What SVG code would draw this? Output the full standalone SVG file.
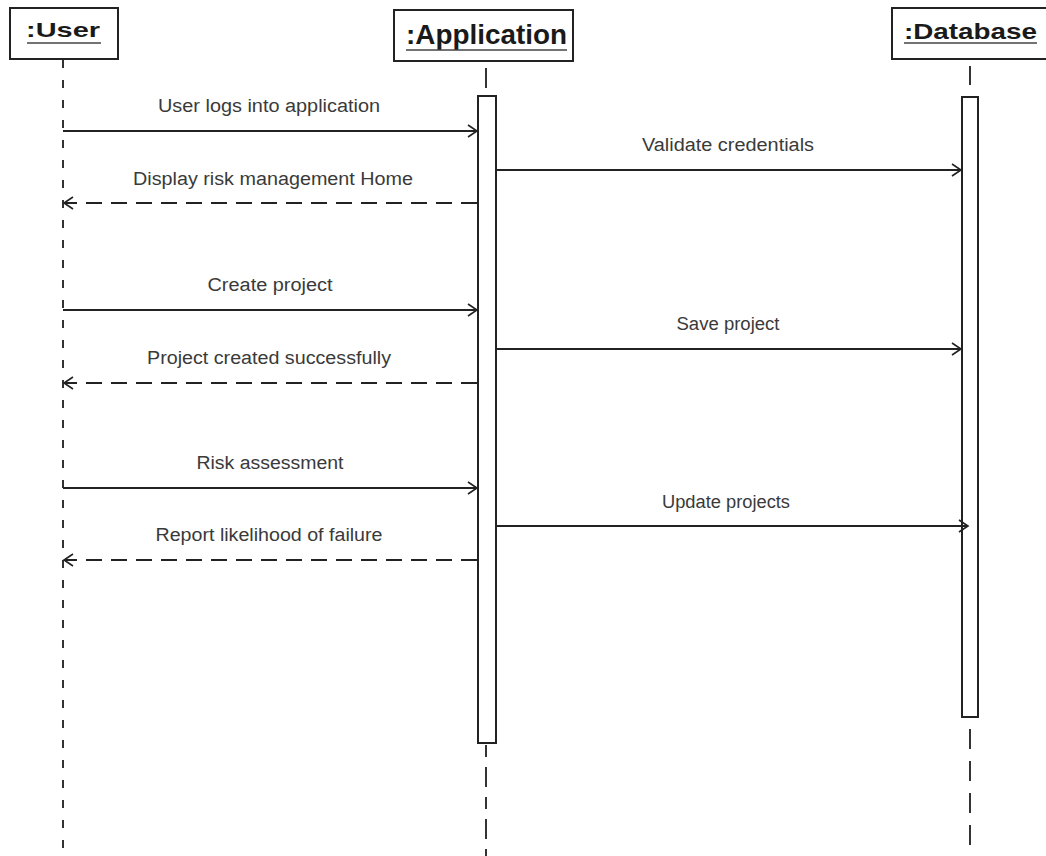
<svg xmlns="http://www.w3.org/2000/svg" width="1046" height="856" viewBox="0 0 1046 856">
<style>
.box{fill:#fff;stroke:#222;stroke-width:2}
.name{font-family:"Liberation Sans",Arial,sans-serif;fill:#1a1a1a}
.ul{stroke:#444;stroke-width:1.5}
.life{stroke:#333;stroke-width:2;fill:none}
.bar{fill:#fff;stroke:#222;stroke-width:2}
.lbl{font-family:"Liberation Sans",Arial,sans-serif;font-size:18px;fill:#3a3a3a;text-anchor:middle}
.msg{stroke:#222;stroke-width:1.8;fill:none}
.ret{stroke:#222;stroke-width:2;fill:none;stroke-dasharray:16 9}
</style>
<defs>
<marker id="open" markerWidth="12" markerHeight="14" refX="10" refY="7" orient="auto" markerUnits="userSpaceOnUse">
<path d="M1,1 L10,7 L1,13" fill="none" stroke="#222" stroke-width="1.6"/>
</marker>
</defs>
<rect width="1046" height="856" fill="#fff"/>
<g id="user">
<rect class="box" x="10" y="8" width="108" height="51"/>
<text class="name" x="26" y="37" font-size="21" font-weight="bold" textLength="74" lengthAdjust="spacingAndGlyphs">:User</text>
<line class="ul" x1="27" y1="43" x2="101" y2="43"/>
<line class="life" x1="63" y1="60" x2="63" y2="856" stroke="#555" stroke-dasharray="8 12"/>
</g>
<g id="application">
<rect class="box" x="394" y="10" width="179" height="51"/>
<text class="name" x="406" y="44" font-size="28" font-weight="bold" textLength="161" lengthAdjust="spacingAndGlyphs">:Application</text>
<line class="ul" x1="406" y1="50" x2="567" y2="50"/>
<line class="life" x1="486" y1="68" x2="486" y2="88"/>
<rect class="bar" x="478" y="96" width="18" height="647"/>
<line class="life" x1="486" y1="745" x2="486" y2="856" stroke-dasharray="12 10 20 10"/>
</g>
<g id="database">
<rect class="box" x="892" y="8" width="160" height="51"/>
<text class="name" x="904" y="39" font-size="22" font-weight="bold" textLength="133" lengthAdjust="spacingAndGlyphs">:Database</text>
<line class="ul" x1="904" y1="43" x2="1037" y2="43"/>
<line class="life" x1="970" y1="66" x2="970" y2="85"/>
<rect class="bar" x="962" y="97" width="16" height="620" stroke="#555"/>
<line class="life" x1="970" y1="729" x2="970" y2="856" stroke-dasharray="20 12"/>
</g>
<g id="connectors">
<line class="msg" x1="63" y1="131" x2="477" y2="131" marker-end="url(#open)"/>
<line class="msg" x1="497" y1="170" x2="961" y2="170" marker-end="url(#open)"/>
<line class="ret" x1="477" y1="203" x2="64" y2="203" marker-end="url(#open)"/>
<line class="msg" x1="63" y1="310" x2="477" y2="310" marker-end="url(#open)"/>
<line class="msg" x1="497" y1="349" x2="961" y2="349" marker-end="url(#open)"/>
<line class="ret" x1="477" y1="383" x2="64" y2="383" marker-end="url(#open)"/>
<line class="msg" x1="63" y1="488" x2="477" y2="488" marker-end="url(#open)"/>
<line class="msg" x1="497" y1="526" x2="968" y2="526" marker-end="url(#open)"/>
<line class="ret" x1="477" y1="560" x2="64" y2="560" marker-end="url(#open)"/>
</g>
<g id="labels">
<text class="lbl" x="269" y="112" textLength="222" lengthAdjust="spacingAndGlyphs">User logs into application</text>
<text class="lbl" x="728" y="151" textLength="172" lengthAdjust="spacingAndGlyphs">Validate credentials</text>
<text class="lbl" x="273" y="185" textLength="280" lengthAdjust="spacingAndGlyphs">Display risk management Home</text>
<text class="lbl" x="270" y="291" textLength="125" lengthAdjust="spacingAndGlyphs">Create project</text>
<text class="lbl" x="728" y="330" textLength="103" lengthAdjust="spacingAndGlyphs">Save project</text>
<text class="lbl" x="269" y="364" textLength="244" lengthAdjust="spacingAndGlyphs">Project created successfully</text>
<text class="lbl" x="270" y="469" textLength="147" lengthAdjust="spacingAndGlyphs">Risk assessment</text>
<text class="lbl" x="726" y="508" textLength="128" lengthAdjust="spacingAndGlyphs">Update projects</text>
<text class="lbl" x="269" y="541" textLength="227" lengthAdjust="spacingAndGlyphs">Report likelihood of failure</text>
</g>
</svg>
